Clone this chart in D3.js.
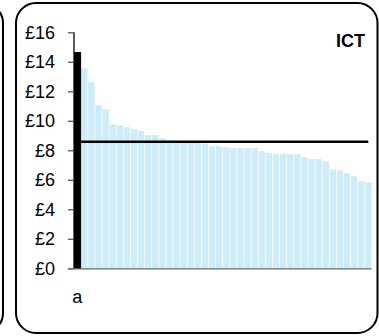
<!DOCTYPE html>
<html>
<head>
<meta charset="utf-8">
<script src="https://cdn.jsdelivr.net/npm/d3@7"></script>
<style>
  html, body { margin: 0; padding: 0; background: #fff; }
  svg { display: block; }
  text { font-family: "Liberation Sans", Arial, sans-serif; }
</style>
</head>
<body>
<svg id="chart" width="379" height="336"></svg>
<script>
// ---- data ----
const categories = d3.range(42).map(i => "c" + i);
const categoryLabels = ["a"].concat(d3.range(41).map(() => ""));
const values = [14.62, 13.56, 12.63, 11.05, 10.78, 9.76, 9.69, 9.56, 9.44, 9.31,
                9.04, 9.04, 8.83, 8.70, 8.65, 8.60, 8.55, 8.50, 8.45, 8.29,
                8.29, 8.21, 8.15, 8.15, 8.15, 8.15, 7.94, 7.81, 7.74, 7.74,
                7.74, 7.74, 7.54, 7.40, 7.40, 7.26, 6.71, 6.64, 6.44, 6.24,
                5.90, 5.83];
const highlightIndex = [0];
const averageValue = [8.58];
const yTicks = [0, 2, 4, 6, 8, 10, 12, 14, 16];
const yTickLabels = ["£0", "£2", "£4", "£6", "£8", "£10", "£12", "£14", "£16"];
const panelTitle = ["ICT"];

// ---- layout ----
const svg = d3.select("#chart");

// panel frames
svg.append("rect").attr("x", -380).attr("y", 3).attr("width", 383).attr("height", 330)
  .attr("rx", 20).attr("fill", "none").attr("stroke", "#000").attr("stroke-width", 2);
svg.append("rect").attr("x", 16).attr("y", 3).attr("width", 361.5).attr("height", 330)
  .attr("rx", 20).attr("fill", "none").attr("stroke", "#000").attr("stroke-width", 2);

const x = d3.scaleBand().domain(categories).range([74, 371.5]).paddingInner(0.1).paddingOuter(0);
const y = d3.scaleLinear().domain([0, 16]).range([268.3, 32.3]);

// light bars
svg.append("g").selectAll("rect")
  .data(values.map((v, i) => ({v, i})).filter(d => !highlightIndex.includes(d.i)))
  .join("rect")
  .attr("x", d => x(categories[d.i]))
  .attr("width", x.bandwidth())
  .attr("y", d => y(d.v))
  .attr("height", d => y(0) - y(d.v))
  .attr("fill", "#cdecf8");

// average line
svg.append("line")
  .attr("x1", x(categories[0]) + x.bandwidth() / 2)
  .attr("x2", x(categories[categories.length - 1]) + x.bandwidth() / 2)
  .attr("y1", y(averageValue[0])).attr("y2", y(averageValue[0]))
  .attr("stroke", "#000").attr("stroke-width", 2.5);

// highlighted bar
svg.append("g").selectAll("rect")
  .data(highlightIndex)
  .join("rect")
  .attr("x", i => x(categories[i]) + 0.5)
  .attr("width", x.step() - 1)
  .attr("y", i => y(values[i]))
  .attr("height", i => y(0) - y(values[i]))
  .attr("fill", "#000").attr("stroke", "#000").attr("stroke-width", 1);

// y axis
const yAxis = d3.axisLeft(y).tickValues(yTicks)
  .tickFormat((d, i) => yTickLabels[i]).tickSize(6).tickPadding(13);
const gy = svg.append("g").attr("transform", "translate(74,0)").call(yAxis);
gy.select(".domain").attr("stroke", "#000").attr("stroke-width", 1.3).attr("d", `M0,${y(16)}V${y(0)}`);
gy.selectAll(".tick line").attr("stroke", "#555").attr("stroke-width", 1.3);
gy.selectAll(".tick text").attr("font-size", 18).attr("fill", "#000")
  .attr("font-family", "'Liberation Sans', Arial, sans-serif");

// x axis
const xAxis = d3.axisBottom(x).tickSize(0).tickPadding(22)
  .tickFormat((d, i) => categoryLabels[i]);
const gx = svg.append("g").attr("transform", `translate(0,${y(0)})`).call(xAxis);
gx.select(".domain").attr("stroke", "#666").attr("stroke-width", 1.3)
  .attr("d", `M68,0.5H371.5`);
gx.selectAll(".tick text").attr("font-size", 18).attr("fill", "#000")
  .attr("font-family", "'Liberation Sans', Arial, sans-serif");

// title
svg.append("text").attr("x", 365).attr("y", 46.5).attr("text-anchor", "end")
  .attr("font-size", 18).attr("font-weight", "bold").attr("fill", "#000")
  .text(panelTitle[0]);
</script>
</body>
</html>
